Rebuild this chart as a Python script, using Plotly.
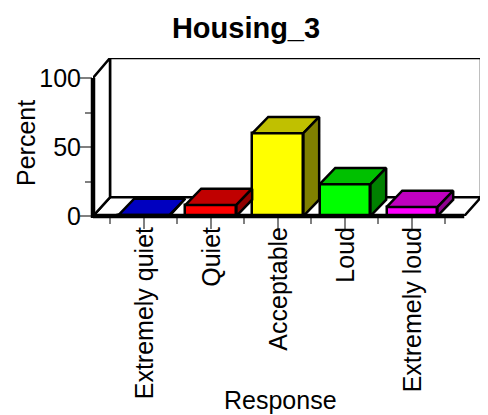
import plotly.graph_objects as go

# Data
categories = ["Extremely quiet", "Quiet", "Acceptable", "Loud", "Extremely loud"]
percent = [0.7, 8, 60, 23, 6.5]
front_colors = ["#0000ff", "#ff0000", "#ffff00", "#00ff00", "#ff00ff"]
top_colors = ["#0000c0", "#c00000", "#c0c000", "#00c000", "#c000c0"]
side_colors = ["#000090", "#900000", "#808000", "#008000", "#900090"]
y_major = [0, 50, 100]
y_minor = [25, 75]
title = "Housing_3"
x_title = "Response"
y_title = "Percent"

# Axis layout
X0, X1 = -0.76, 5.03
Y0, Y1 = 0, 114.5
FLOOR_RIGHT = 4.78
WALL_DX, WALL_DY = 0.2537, 13.5
BAR_W = 0.76
BAR_DX, BAR_DY = 0.235, 11.8
FONT = "Liberation Sans"

fig = go.Figure()

positions = list(range(len(categories)))

fig.add_trace(go.Bar(
    x=positions, y=percent, width=BAR_W,
    marker=dict(color=front_colors, line=dict(color="black", width=2.5)),
    showlegend=False, hoverinfo="skip",
))

for i, v in enumerate(percent):
    l, r = i - BAR_W / 2, i + BAR_W / 2
    fig.add_trace(go.Scatter(
        x=[l, l + BAR_DX, r + BAR_DX, r, l], y=[v, v + BAR_DY, v + BAR_DY, v, v],
        mode="lines", fill="toself", fillcolor=top_colors[i],
        line=dict(color="black", width=2.5), showlegend=False, hoverinfo="skip", cliponaxis=False,
    ))
    fig.add_trace(go.Scatter(
        x=[r, r + BAR_DX, r + BAR_DX, r, r], y=[0, BAR_DY, v + BAR_DY, v, 0],
        mode="lines", fill="toself", fillcolor=side_colors[i],
        line=dict(color="black", width=2.5), showlegend=False, hoverinfo="skip", cliponaxis=False,
    ))

wx, wy = X0 + WALL_DX, WALL_DY
shapes = [
    dict(type="rect", xref="x", yref="y", x0=wx, x1=X1, y0=wy, y1=Y1, layer="below",
         fillcolor="white", line=dict(color="black", width=2.5)),
    dict(type="path", xref="x", yref="y", layer="below",
         path=f"M {X0} 0 L {wx} {wy} L {X1} {wy} L {FLOOR_RIGHT} 0 Z",
         fillcolor="white", line=dict(color="black", width=2.5)),
    dict(type="path", xref="x", yref="y", layer="below",
         path=f"M {X0} 100 L {wx} {Y1} L {wx} {wy} L {X0} 0 Z",
         fillcolor="white", line=dict(color="black", width=2.5)),
    # Heavy front axes in paper coordinates, which are not clipped to the plot area
    dict(type="line", xref="paper", yref="paper", x0=0, x1=0, y0=-0.012, y1=100 / Y1, layer="above",
         line=dict(color="black", width=4.5)),
    dict(type="line", xref="paper", yref="paper", x0=0, x1=(FLOOR_RIGHT - X0) / (X1 - X0), y0=0, y1=0,
         layer="above", line=dict(color="black", width=4.5)),
]

annotations = [
    dict(text=x_title, xref="paper", yref="paper", x=(279 - 92) / 388, y=-(399 - 215) / 158,
         xanchor="center", yanchor="middle", showarrow=False, font=dict(size=25)),
    dict(text=y_title, xref="paper", yref="paper", x=(25 - 92) / 388, y=(215 - 142) / 158,
         xanchor="center", yanchor="middle", showarrow=False, textangle=-90, font=dict(size=25)),
]

# The page body has an 8 px margin, so the figure is placed 8 px in from the window corner.
fig.update_layout(
    width=480, height=407, autosize=False,
    margin=dict(l=85, r=7, t=50, b=199),
    paper_bgcolor="white", plot_bgcolor="white",
    font=dict(family=FONT, size=25, color="black"),
    title=dict(text=f"<b>{title}</b>", x=238 / 480, xanchor="center", y=1 - 20 / 407,
               yanchor="middle", font=dict(size=29, family=FONT)),
    shapes=shapes,
    annotations=annotations,
    bargap=0,
    xaxis=dict(
        range=[X0, X1], showgrid=False, zeroline=False, showline=False,
        tickmode="array", tickvals=positions, ticktext=categories, tickangle=-90,
        ticks="outside", ticklen=12, tickwidth=2, tickcolor="#808080",
        ticklabelstandoff=-12, ticklabelshift=1,
        tickfont=dict(size=25),
        minor=dict(tickmode="array", tickvals=[p - 0.5 for p in positions] + [4.5],
                   ticks="outside", ticklen=7, tickwidth=2, tickcolor="#808080"),
        automargin=False,
    ),
    yaxis=dict(
        range=[Y0, Y1], showgrid=False, zeroline=False, showline=False,
        tickmode="array", tickvals=y_major, ticktext=[str(v) for v in y_major],
        ticks="outside", ticklen=12, tickwidth=2, tickcolor="#808080",
        ticklabelstandoff=-6,
        minor=dict(tickmode="array", tickvals=y_minor,
                   ticks="outside", ticklen=7, tickwidth=2, tickcolor="#808080"),
        automargin=False,
    ),
)

fig.write_html("out.html", config={"displayModeBar": False})
